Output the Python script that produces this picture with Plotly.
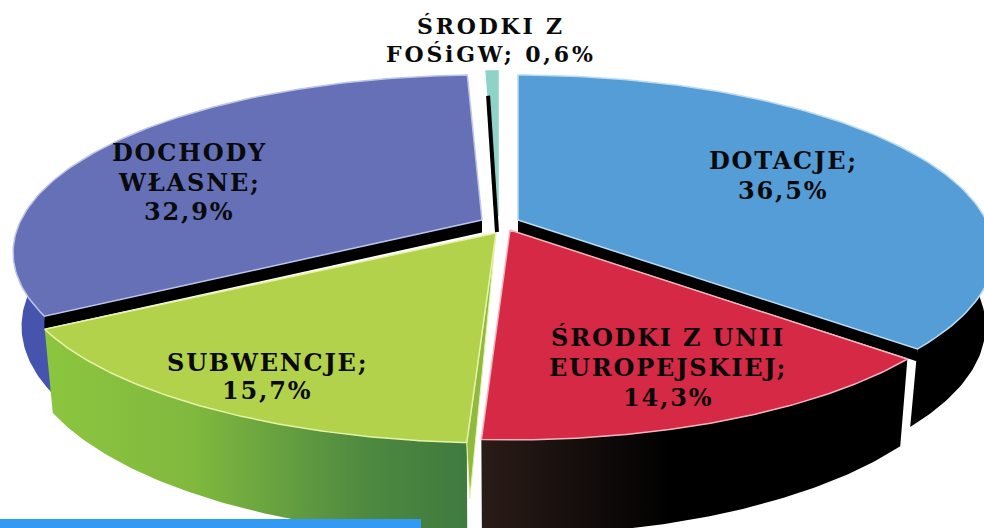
import numpy as np
import plotly.graph_objects as go

categories = ["DOTACJE", "ŚRODKI Z UNII EUROPEJSKIEJ", "SUBWENCJE", "DOCHODY WŁASNE", "ŚRODKI Z FOŚiGW"]
values = [36.5, 14.3, 15.7, 32.9, 0.6]
label_lines = [
    ["DOTACJE;", "36,5%"],
    ["ŚRODKI Z UNII", "EUROPEJSKIEJ;", "14,3%"],
    ["SUBWENCJE;", "15,7%"],
    ["DOCHODY", "WŁASNE;", "32,9%"],
    ["ŚRODKI Z", "FOŚiGW; 0,6%"],
]
label_pos = [(783, 175), (668, 367), (267, 376), (189, 182), (491, 40)]
label_pitch = [30, 30, 28, 29.5, 28]
label_size = [24, 24, 24, 24, 22]
label_spacing = [1.8, 1.8, 1.8, 1.8, 2.8]
top_colors = ["#559dd6", "#d52946", "#b3d24c", "#6570b7", "#8fd3c8"]
edge_colors = ["#b9dcf2", "#f2b4bc", "#e6f2a8", "#bcc4ea", "#8fd3c8"]
apexes = [(518, 220), (510, 230), (496, 233), (482, 220), (498, 216)]
rx_scale = [1.0, 0.995, 1.016, 0.985, 0.8]
depth_front = [9.0, 23.0, 23.0, 10.0, 0.0]

RX, K, R0 = 468.0, 0.183, 171.5
DEPTH_BASE, SHRINK = 72.0, 0.982
CUT = 12.5


def project(theta, i, frac=1.0):
    u = np.cos(theta)
    d = 1 + K * u
    ax, ay = apexes[i]
    return ax + frac * rx_scale[i] * RX * np.sin(theta) / d, ay - frac * R0 * u / d


cum = np.cumsum([0] + values)
starts = cum[:-1] / cum[-1] * 2 * np.pi
ends = cum[1:] / cum[-1] * 2 * np.pi

fig = go.Figure()


def poly(x, y, color=None, line=None, width=0, **kw):
    fig.add_trace(go.Scatter(
        x=list(x), y=list(y), mode="lines", fill="toself",
        fillcolor=color, line=dict(color=line or "rgba(0,0,0,0)", width=width),
        hoverinfo="skip", showlegend=False, **kw))


def wall(i, t0, t1, color=None, **kw):
    t = np.linspace(t0, t1, 80)
    x, y = project(t, i)
    xb = apexes[i][0] + (x - apexes[i][0]) * SHRINK
    yb = y + DEPTH_BASE + depth_front[i] * np.maximum(-np.cos(t), 0)
    poly(np.r_[x, xb[::-1]], np.r_[y, yb[::-1]], color, **kw)


# outer walls
wall(3, starts[3], np.radians(285), "#4654ad")
wall(0, np.radians(60), ends[0], "#000000")
wall(1, starts[1], ends[1], None, fillgradient=dict(
    type="horizontal", colorscale=[[0, "#2a1c18"], [0.45, "#000000"], [1, "#000000"]]))
wall(2, starts[2], ends[2], None, fillgradient=dict(
    type="horizontal", colorscale=[[0, "#8cc63f"], [0.35, "#80b93e"], [0.75, "#4f8a40"], [1, "#3f7a40"]]))

# green cut face at the red side
gx, gy = project(np.array([starts[2]]), 2)
poly([apexes[2][0], gx[0], gx[0] + 3, apexes[2][0]],
     [apexes[2][1], gy[0], gy[0] + 56, apexes[2][1]], "#8fba3f", "#e6f2a8", 1)

# black cut faces under blue and purple
for i, th in ((0, ends[0]), (3, starts[3])):
    rx, ry = project(np.array([th]), i)
    ax, ay = apexes[i]
    poly([ax, rx[0], rx[0], ax], [ay, ry[0], ry[0] + CUT, ay + CUT], "#000000")

# top faces
for i in (3, 4, 2, 0, 1):
    t = np.linspace(starts[i], ends[i], 120)
    x, y = project(t, i)
    poly(np.r_[apexes[i][0], x, apexes[i][0]], np.r_[apexes[i][1], y, apexes[i][1]],
         top_colors[i], edge_colors[i], 1.5)

# black sliver on the small slice
sx, sy = project(np.array([starts[4]]), 4, 0.83)
fig.add_trace(go.Scatter(x=[sx[0], apexes[4][0] - 1], y=[sy[0], apexes[3][1] + 12], mode="lines",
                         line=dict(color="#000000", width=4), hoverinfo="skip", showlegend=False))

for lines, (x, y), pitch, size, spacing in zip(label_lines, label_pos, label_pitch, label_size, label_spacing):
    for n, text in enumerate(lines):
        fig.add_annotation(
            x=x, y=y + (n - (len(lines) - 1) / 2) * pitch,
            text=f'<span style="letter-spacing:{spacing}px"><b>{text}</b></span>', showarrow=False,
            font=dict(family="DejaVu Serif", size=size, color="#0a0a0a"),
            align="center", xanchor="center", yanchor="middle")

fig.add_shape(type="rect", x0=0, x1=421, y0=519, y1=528, fillcolor="#3399f3", line_width=0, layer="above")

fig.update_layout(
    width=984, height=528, margin=dict(l=0, r=0, t=0, b=0),
    paper_bgcolor="white", plot_bgcolor="white", showlegend=False,
    xaxis=dict(range=[0, 984], visible=False, fixedrange=True),
    yaxis=dict(range=[528, 0], visible=False, fixedrange=True),
)
fig.write_html("out.html", config=dict(displayModeBar=False),
               post_script="document.body.style.margin='0';document.documentElement.style.overflow='hidden';")
